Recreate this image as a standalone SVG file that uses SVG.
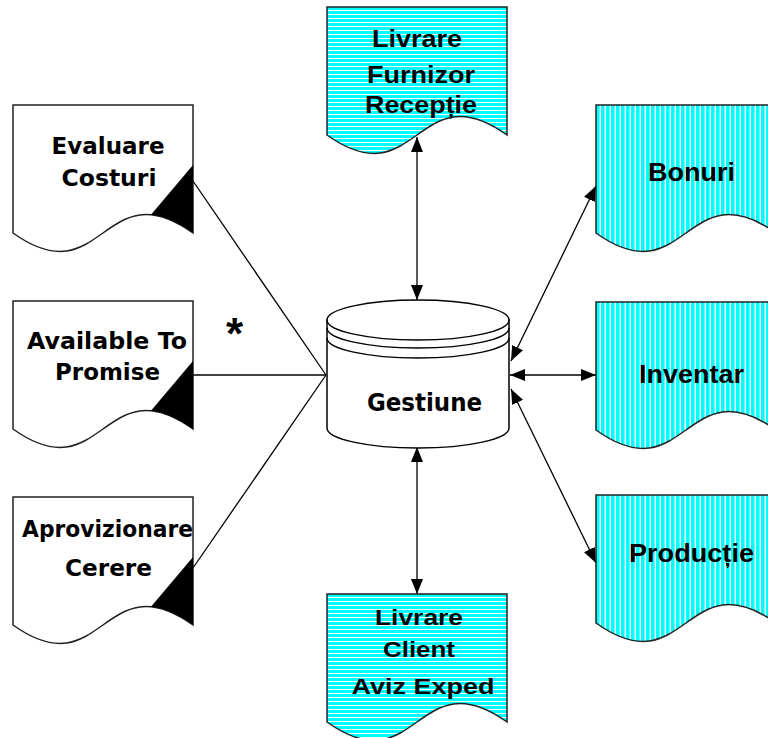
<svg xmlns="http://www.w3.org/2000/svg" xmlns:xlink="http://www.w3.org/1999/xlink" width="768" height="738" viewBox="0 0 768 738">
<style>
.doc{stroke:#222;stroke-width:1.5}
.w{fill:#fff}
.h{fill:url(#hs)}
.v{fill:url(#vs)}
.tl{font-family:"DejaVu Sans",Verdana,sans-serif;font-weight:bold;font-size:22.5px;fill:#000;text-anchor:middle}
.ta{font-family:"Liberation Sans",Arial,sans-serif;font-weight:bold;fill:#000;text-anchor:middle}
.ln{stroke:#000;stroke-width:1.3;fill:none}
.cyl{fill:#fff;stroke:#000;stroke-width:1.5}
</style>
<defs>
<pattern id="hs" width="4" height="4" patternUnits="userSpaceOnUse"><rect width="4" height="4" fill="#fff"/><rect width="4" height="3" fill="#00ffff"/></pattern>
<pattern id="vs" width="5" height="5" patternUnits="userSpaceOnUse"><rect width="5" height="5" fill="#fff"/><rect width="3.6" height="5" fill="#00ffff"/></pattern>
<path id="docShape" d="M0,0 H180 V128 C90,64 90,192 0,128 Z"/>
<clipPath id="docClip"><use xlink:href="#docShape"/></clipPath>
<marker id="arr" viewBox="0 0 15 12" refX="15" refY="6" markerWidth="15" markerHeight="12" markerUnits="userSpaceOnUse" orient="auto-start-reverse"><path d="M0,0 L15,6 L0,12 Z" fill="#000"/></marker>
</defs>
<rect width="768" height="738" fill="#fff"/>

<g id="connectors">
<line class="ln" x1="193" y1="181" x2="326" y2="375"/>
<line class="ln" x1="193" y1="375" x2="326" y2="375"/>
<line class="ln" x1="193" y1="568" x2="326" y2="375"/>
<line class="ln" x1="417" y1="137" x2="417" y2="300" marker-start="url(#arr)" marker-end="url(#arr)"/>
<line class="ln" x1="417" y1="447" x2="417" y2="594" marker-start="url(#arr)" marker-end="url(#arr)"/>
<line class="ln" x1="510" y1="375" x2="596" y2="375" marker-start="url(#arr)" marker-end="url(#arr)"/>
<line class="ln" x1="511" y1="361" x2="596" y2="186" marker-start="url(#arr)" marker-end="url(#arr)"/>
<line class="ln" x1="511" y1="389" x2="596" y2="563" marker-start="url(#arr)" marker-end="url(#arr)"/>
</g>

<g id="evaluare" transform="translate(13,105)">
<use xlink:href="#docShape" class="doc w"/>
<path d="M180,60 L131,118 L190,150 L190,60 Z" fill="#000" clip-path="url(#docClip)"/>
<text class="tl" x="95" y="49" textLength="113" lengthAdjust="spacingAndGlyphs">Evaluare</text>
<text class="tl" x="96" y="81" textLength="95" lengthAdjust="spacingAndGlyphs">Costuri</text>
</g>

<g id="atp" transform="translate(13,301)">
<use xlink:href="#docShape" class="doc w"/>
<path d="M180,60 L131,118 L190,150 L190,60 Z" fill="#000" clip-path="url(#docClip)"/>
<text class="tl" x="94" y="48" textLength="160" lengthAdjust="spacingAndGlyphs">Available To</text>
<text class="tl" x="94.5" y="79" textLength="105" lengthAdjust="spacingAndGlyphs">Promise</text>
</g>

<g id="aprovizionare" transform="translate(13,497)">
<use xlink:href="#docShape" class="doc w"/>
<path d="M180,60 L131,118 L190,150 L190,60 Z" fill="#000" clip-path="url(#docClip)"/>
<text class="tl" x="94.5" y="40" textLength="171" lengthAdjust="spacingAndGlyphs">Aprovizionare</text>
<text class="tl" x="95.5" y="79" textLength="87" lengthAdjust="spacingAndGlyphs">Cerere</text>
</g>

<g id="livrare-furnizor" transform="translate(327,7)">
<use xlink:href="#docShape" class="doc h"/>
<text class="ta" x="90" y="40" font-size="23.5" textLength="90" lengthAdjust="spacingAndGlyphs">Livrare</text>
<text class="ta" x="94" y="76" font-size="23.5" textLength="108" lengthAdjust="spacingAndGlyphs">Furnizor</text>
<text class="ta" x="94" y="106" font-size="23.5" textLength="112" lengthAdjust="spacingAndGlyphs">Recepție</text>
</g>

<g id="livrare-client" transform="translate(327,594)">
<use xlink:href="#docShape" class="doc h"/>
<text class="ta" x="92" y="31" font-size="22.5" textLength="88" lengthAdjust="spacingAndGlyphs">Livrare</text>
<text class="ta" x="92" y="63" font-size="22.5" textLength="72" lengthAdjust="spacingAndGlyphs">Client</text>
<text class="ta" x="96" y="100" font-size="22.5" textLength="143" lengthAdjust="spacingAndGlyphs">Aviz Exped</text>
</g>

<g id="gestiune">
<path class="cyl" d="M327,320 V428 A91,20 0 0 0 509,428 V320 Z"/>
<ellipse class="cyl" cx="418" cy="320" rx="91" ry="20"/>
<path class="cyl" d="M327,328 A91,20 0 0 0 509,328" style="fill:none"/>
<path class="cyl" d="M327,338 A91,20 0 0 0 509,338" style="fill:none"/>
<text class="tl" x="424.5" y="411" style="font-size:24px" textLength="115" lengthAdjust="spacingAndGlyphs">Gestiune</text>
</g>

<g id="bonuri" transform="translate(596,105)">
<use xlink:href="#docShape" class="doc v"/>
<text class="ta" x="95.5" y="76" font-size="26.5" textLength="87" lengthAdjust="spacingAndGlyphs">Bonuri</text>
</g>

<g id="inventar" transform="translate(596,302)">
<use xlink:href="#docShape" class="doc v"/>
<text class="ta" x="95.5" y="81" font-size="26.5" textLength="105" lengthAdjust="spacingAndGlyphs">Inventar</text>
</g>

<g id="productie" transform="translate(596,495)">
<use xlink:href="#docShape" class="doc v"/>
<text class="ta" x="95.5" y="67" font-size="26.5" textLength="125" lengthAdjust="spacingAndGlyphs">Producție</text>
</g>

<g id="asterisk">
<text class="ta" x="234.5" y="349" font-size="44">*</text>
</g>
</svg>
